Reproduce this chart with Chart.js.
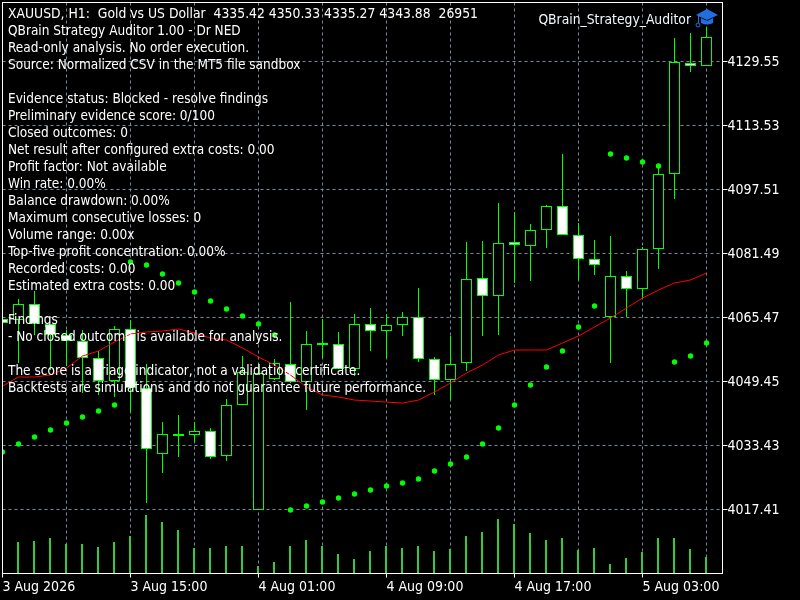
<!DOCTYPE html>
<html>
<head>
<meta charset="utf-8">
<title>XAUUSD H1</title>
<script src="https://cdn.jsdelivr.net/npm/chart.js@4/dist/chart.umd.js"></script>
<style>
    html, body { margin: 0; padding: 0; background: #000; }
    canvas { display: block; }
</style>
</head>
<body>
<canvas id="chart" width="800" height="600"></canvas>
<script>
// Candles, one hour each, 3 Aug 07:00 to 5 Aug 05:00
const opens = [4065.10, 4064.85, 4068.85, 4063.85, 4061.09, 4059.58, 4055.33, 4049.57, 4062.59, 4047.82, 4031.30, 4035.80, 4036.05, 4037.06, 4030.80, 4043.56, 4017.28, 4050.07, 4053.83, 4049.32, 4058.58, 4058.83, 4052.57, 4063.85, 4062.09, 4063.59, 4065.60, 4055.08, 4049.82, 4054.08, 4075.36, 4070.85, 4084.37, 4083.37, 4087.37, 4093.38, 4086.12, 4080.11, 4065.60, 4075.86, 4072.60, 4082.62, 4101.39, 4129.17, 4128.42];
const highs = [4065.85, 4070.10, 4072.10, 4063.85, 4062.34, 4062.34, 4057.08, 4063.34, 4064.85, 4053.83, 4039.31, 4041.06, 4039.31, 4037.81, 4045.07, 4055.83, 4054.08, 4055.08, 4069.35, 4062.09, 4065.10, 4061.84, 4066.35, 4067.85, 4066.35, 4066.85, 4072.86, 4055.58, 4060.84, 4084.37, 4084.62, 4094.13, 4091.88, 4088.87, 4093.63, 4106.40, 4089.12, 4084.87, 4085.87, 4077.11, 4083.12, 4102.89, 4135.43, 4136.68, 4138.19];
const lows = [4063.59, 4054.08, 4061.09, 4052.32, 4053.33, 4046.57, 4046.07, 4045.57, 4041.81, 4019.03, 4026.54, 4030.55, 4034.30, 4030.05, 4029.55, 4043.56, 4017.28, 4049.82, 4049.07, 4042.31, 4055.33, 4052.57, 4050.82, 4057.08, 4055.33, 4060.84, 4054.33, 4046.07, 4044.81, 4052.07, 4060.84, 4061.09, 4074.11, 4074.61, 4082.87, 4086.12, 4074.86, 4076.11, 4054.08, 4065.60, 4070.35, 4077.61, 4095.13, 4126.92, 4128.42];
const closes = [4064.09, 4068.85, 4063.85, 4061.09, 4059.58, 4055.33, 4049.57, 4062.59, 4047.82, 4032.55, 4036.30, 4036.30, 4037.06, 4030.55, 4043.56, 4051.82, 4051.57, 4054.08, 4049.32, 4058.83, 4059.08, 4052.57, 4063.85, 4062.09, 4063.59, 4065.60, 4055.08, 4049.82, 4053.83, 4075.11, 4070.85, 4084.12, 4083.62, 4087.37, 4093.38, 4086.12, 4080.11, 4078.61, 4075.86, 4072.60, 4082.62, 4101.39, 4129.42, 4128.42, 4135.68];

// Tick volume per bar
const volumes = [47000, 52204, 53888, 58940, 48836, 48836, 43784, 52204, 62308, 97672, 85884, 72412, 42100, 42100, 45468, 45468, 11788, 18524, 45468, 55572, 45468, 31996, 23576, 37048, 45468, 42100, 45468, 37048, 40416, 62308, 69044, 90936, 82516, 67360, 55572, 58940, 38732, 42100, 15156, 25260, 35364, 58940, 58940, 40416, 26951];

// Parabolic SAR dots
const sarValues = [4031.80, 4033.80, 4035.55, 4037.31, 4039.06, 4040.56, 4042.06, 4043.56, 4079.36, 4078.61, 4076.35, 4074.11, 4071.85, 4069.60, 4067.59, 4065.85, 4063.85, 4061.09, 4017.28, 4018.28, 4019.28, 4020.28, 4021.29, 4022.29, 4023.29, 4024.04, 4025.04, 4027.04, 4028.80, 4030.55, 4033.80, 4037.81, 4043.56, 4048.57, 4053.08, 4057.08, 4063.09, 4068.35, 4106.40, 4105.39, 4104.39, 4103.39, 4054.33, 4055.83, 4059.08];

// Moving average, red line
const maValues = [4048.32, 4050.57, 4050.57, 4051.07, 4052.82, 4055.83, 4057.08, 4059.33, 4061.34, 4061.84, 4062.09, 4062.59, 4061.59, 4060.33, 4059.83, 4057.83, 4055.58, 4053.58, 4051.07, 4048.07, 4046.07, 4045.57, 4044.81, 4044.56, 4044.31, 4044.06, 4044.81, 4046.82, 4049.07, 4051.57, 4053.58, 4056.08, 4057.33, 4057.33, 4057.33, 4059.08, 4060.84, 4063.09, 4065.34, 4067.85, 4070.35, 4072.35, 4074.11, 4074.86, 4076.60];

// Axis labels
const priceTicks = [4129.55, 4113.53, 4097.51, 4081.49, 4065.47, 4049.45, 4033.43, 4017.41];
const timeTicks = ['3 Aug 2026', '3 Aug 15:00', '4 Aug 01:00', '4 Aug 09:00', '4 Aug 17:00', '5 Aug 03:00'];

// Text written on the chart, one entry per line
const commentLines = [
    'XAUUSD, H1:  Gold vs US Dollar  4335.42 4350.33 4335.27 4343.88  26951',
    'QBrain Strategy Auditor 1.00 - Dr NED',
    'Read-only analysis. No order execution.',
    'Source: Normalized CSV in the MT5 file sandbox',
    '',
    'Evidence status: Blocked - resolve findings',
    'Preliminary evidence score: 0/100',
    'Closed outcomes: 0',
    'Net result after configured extra costs: 0.00',
    'Profit factor: Not available',
    'Win rate: 0.00%',
    'Balance drawdown: 0.00%',
    'Maximum consecutive losses: 0',
    'Volume range: 0.00x',
    'Top-five profit concentration: 0.00%',
    'Recorded costs: 0.00',
    'Estimated extra costs: 0.00',
    '',
    'Findings',
    '- No closed outcome is available for analysis.',
    '',
    'The score is a triage indicator, not a validation certificate.',
    'Backtests are simulations and do not guarantee future performance.'
];
const expertName = 'QBrain_Strategy_Auditor';

const fontName = '"DejaVu Sans Condensed", "DejaVu Sans"';
const fontSize = 14;
const textSize = 13.5;
const lime = '#00ff00';

// Frame round the plot, comment text and the expert label with its cap icon
const overlay = {
    id: 'overlay',
    afterDatasetsDraw(chart) {
        const { ctx, chartArea: a } = chart;
        ctx.save();
        ctx.strokeStyle = '#fff';
        ctx.lineWidth = 1;
        ctx.strokeRect(a.left, a.top, a.right - a.left, a.bottom - a.top);

        ctx.textBaseline = 'alphabetic';
        ctx.fillStyle = '#fff';
        ctx.textAlign = 'left';
        commentLines.forEach((line, i) => {
            // the first line is mostly digits, they run a bit wider
            ctx.font = (i === 0 ? 13.8 : textSize) + 'px ' + fontName;
            ctx.fillText(line, 8, 18 + i * 17);
        });

        ctx.font = '13.75px ' + fontName;
        ctx.fillStyle = '#f0f8ff';
        ctx.textAlign = 'right';
        ctx.fillText(expertName, 691, 24);

        // Graduation cap
        ctx.fillStyle = '#1f6fe0';
        ctx.beginPath();
        ctx.moveTo(707, 9);
        ctx.lineTo(718, 15);
        ctx.lineTo(707, 20);
        ctx.lineTo(696, 15);
        ctx.closePath();
        ctx.fill();
        ctx.beginPath();
        ctx.moveTo(701, 18);
        ctx.lineTo(707, 21);
        ctx.lineTo(713, 18);
        ctx.lineTo(713, 23);
        ctx.quadraticCurveTo(707, 26, 701, 23);
        ctx.closePath();
        ctx.fill();
        ctx.strokeStyle = '#1f6fe0';
        ctx.beginPath();
        ctx.moveTo(698.5, 15);
        ctx.lineTo(698.5, 23);
        ctx.stroke();
        ctx.beginPath();
        ctx.arc(698, 25, 2, 0, Math.PI * 2);
        ctx.stroke();
        ctx.restore();
    }
};

new Chart(document.getElementById('chart'), {
    type: 'bar',
    data: {
        datasets: [
            {
                // Volume bars
                data: volumes.map((v, i) => ({ x: i, y: v })),
                xAxisID: 'xVol',
                yAxisID: 'yVol',
                backgroundColor: '#32cd32',
                barThickness: 2,
                grouped: false,
                inflateAmount: 0,
                order: 5
            },
            {
                // Wicks
                data: highs.map((h, i) => ({ x: i, y: [lows[i], h] })),
                backgroundColor: lime,
                barThickness: 1,
                grouped: false,
                inflateAmount: 0,
                order: 4
            },
            {
                // Candle bodies
                data: opens.map((o, i) => ({ x: i, y: [o, closes[i]] })),
                backgroundColor: opens.map((o, i) => closes[i] < o ? '#fff' : '#000'),
                borderColor: lime,
                borderWidth: 1,
                borderSkipped: false,
                barThickness: 11,
                grouped: false,
                inflateAmount: 0,
                order: 3
            },
            {
                type: 'line',
                data: maValues.map((v, i) => ({ x: i, y: v })),
                borderColor: '#ff0000',
                borderWidth: 1,
                pointRadius: 0,
                tension: 0,
                order: 2
            },
            {
                type: 'line',
                data: sarValues.map((v, i) => ({ x: i, y: v })),
                showLine: false,
                pointRadius: 2.7,
                pointBorderWidth: 0,
                pointBackgroundColor: lime,
                order: 1
            }
        ]
    },
    plugins: [overlay],
    options: {
        responsive: false,
        animation: false,
        layout: { autoPadding: false, padding: { left: 2.5, top: 2.5 } },
        plugins: { legend: { display: false }, tooltip: { enabled: false } },
        scales: {
            x: {
                type: 'linear',
                min: 0,
                max: 45,
                offset: false,
                afterFit: s => { s.height = 26.5; s.paddingLeft = 0; s.paddingRight = 0; },
                grid: {
                    offset: false,
                    color: ctx => ctx.tick && ctx.tick.value === 0 ? 'transparent' : '#778899',
                    tickColor: ctx => ctx.tick && ctx.tick.value % 8 === 0 ? '#fff' : 'transparent',
                    tickLength: 4,
                    tickBorderDash: []
                },
                border: { display: false, dash: [3, 3] },
                ticks: {
                    stepSize: 4,
                    includeBounds: false,
                    autoSkip: false,
                    maxRotation: 0,
                    align: 'start',
                    padding: 1,
                    color: '#fff',
                    font: { family: fontName, size: fontSize },
                    callback: v => v % 8 === 0 ? timeTicks[v / 8] : ''
                }
            },
            y: {
                type: 'linear',
                position: 'right',
                min: 4001.39,
                max: 4144.318,
                afterFit: s => { s.width = 77.5; s.paddingTop = 0; s.paddingBottom = 0; },
                afterBuildTicks: s => { s.ticks = priceTicks.map(v => ({ value: v })); },
                grid: {
                    color: '#778899',
                    tickColor: '#fff',
                    tickLength: 5,
                    tickBorderDash: []
                },
                border: { display: false, dash: [3, 3] },
                ticks: {
                    autoSkip: false,
                    padding: 0,
                    labelOffset: 1,
                    color: '#fff',
                    font: { family: fontName, size: fontSize },
                    callback: v => v.toFixed(2)
                }
            },
            xVol: { type: 'linear', display: false, min: 0.03125, max: 45.03125, offset: false },
            yVol: { type: 'linear', display: false, min: -842, max: 960950 }
        }
    }
});
</script>
</body>
</html>
